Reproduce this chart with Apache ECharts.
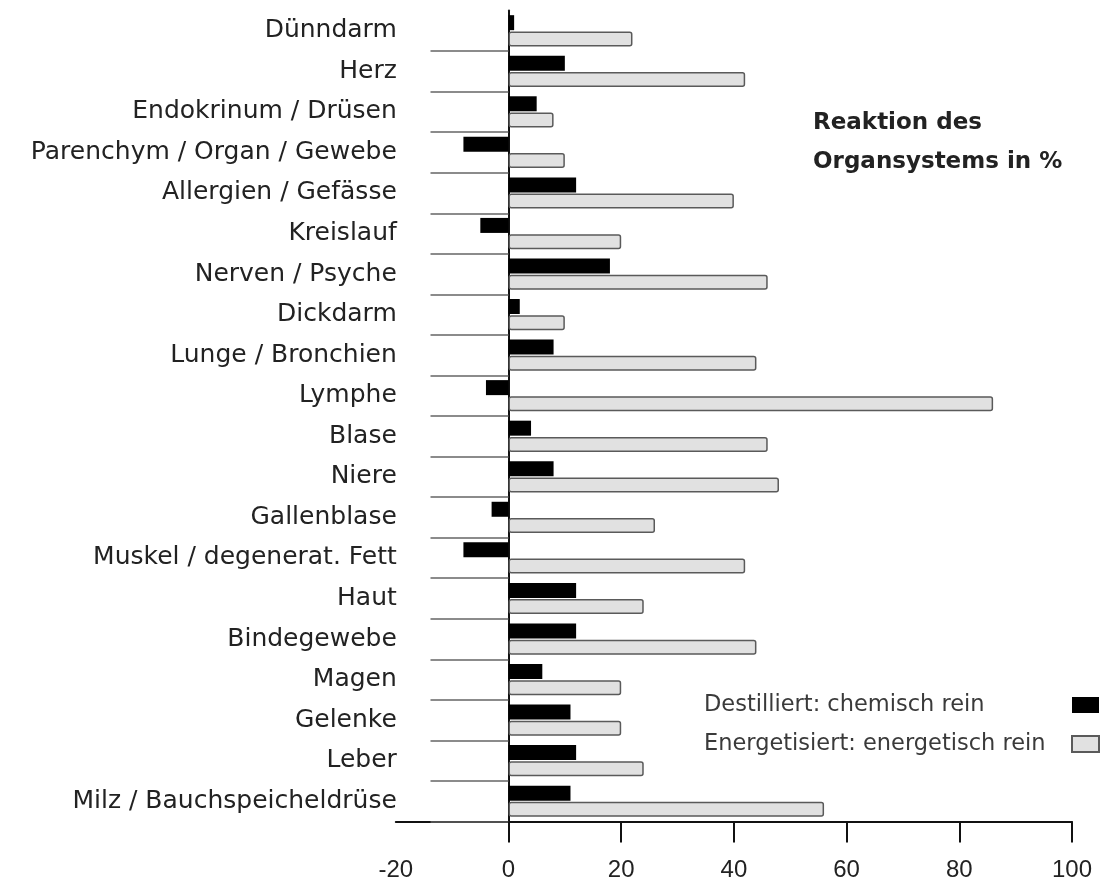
<!DOCTYPE html>
<html>
<head>
<meta charset="utf-8">
<script src="https://cdn.jsdelivr.net/npm/echarts@6/dist/echarts.min.js"></script>
<style>
  html, body { margin: 0; padding: 0; background: #fff; }
  #chart { width: 1102px; height: 885px; }
</style>
</head>
<body>
<div id="chart"></div>
<script>
// Organ systems, listed top to bottom
const categories = [
  'Dünndarm', 'Herz', 'Endokrinum / Drüsen', 'Parenchym / Organ / Gewebe',
  'Allergien / Gefässe', 'Kreislauf', 'Nerven / Psyche', 'Dickdarm',
  'Lunge / Bronchien', 'Lymphe', 'Blase', 'Niere', 'Gallenblase',
  'Muskel / degenerat. Fett', 'Haut', 'Bindegewebe', 'Magen', 'Gelenke',
  'Leber', 'Milz / Bauchspeicheldrüse'
];

// Reaction in % per organ system
const chemischRein = [1, 10, 5, -8, 12, -5, 18, 2, 8, -4, 4, 8, -3, -8, 12, 12, 6, 11, 12, 11];
const energetischRein = [22, 42, 8, 10, 40, 20, 46, 10, 44, 86, 46, 48, 26, 42, 24, 44, 20, 20, 24, 56];

const seriesNames = ['Destilliert: chemisch rein', 'Energetisiert: energetisch rein'];
const xTickValues = [0, 20, 40, 60, 80, 100];

const chart = echarts.init(document.getElementById('chart'));

chart.setOption({
  backgroundColor: '#ffffff',
  animation: false,
  title: {
    text: 'Reaktion des\nOrgansystems in %',
    left: 813,
    top: 104,
    padding: 0,
    textStyle: {
      fontFamily: 'DejaVu Sans',
      fontWeight: 'bold',
      fontSize: 23,
      lineHeight: 39,
      color: '#222'
    }
  },
  legend: {
    orient: 'vertical',
    right: 2,
    top: 693.5,
    padding: 0,
    align: 'right',
    icon: 'rect',
    itemWidth: 27,
    itemHeight: 16,
    itemGap: 16,
    data: seriesNames,
    formatter: '{t|{name}}',
    textStyle: {
      rich: {
        t: {
          width: 363,
          align: 'left',
          fontFamily: 'DejaVu Sans',
          fontSize: 22.5,
          lineHeight: 25,
          color: '#3a3a3a'
        }
      }
    }
  },
  grid: {
    left: 395.8,
    right: 30,
    top: 10.5,
    bottom: 63.5,
    containLabel: false,
    outerBoundsMode: 'none'
  },
  xAxis: {
    type: 'value',
    min: -20,
    max: 100,
    interval: 20,
    splitLine: { show: false },
    axisLine: { show: true, onZero: false, lineStyle: { color: '#111', width: 2 } },
    axisTick: {
      show: true,
      customValues: xTickValues,
      length: 21,
      lineStyle: { color: '#111', width: 2 }
    },
    axisLabel: {
      margin: 37,
      fontFamily: 'Liberation Sans',
      fontSize: 24,
      color: '#222'
    }
  },
  yAxis: {
    type: 'category',
    data: categories,
    inverse: true,
    axisLine: { show: true, onZero: true, lineStyle: { color: '#111', width: 2 } },
    axisTick: {
      show: true,
      length: 78,
      interval: function (index) { return index > 0; },
      lineStyle: { color: '#666', width: 1.5 }
    },
    axisLabel: {
      interval: 0,
      margin: -1,
      fontFamily: 'DejaVu Sans',
      fontSize: 25,
      color: '#222'
    },
    splitLine: { show: false }
  },
  series: [
    {
      name: seriesNames[0],
      type: 'bar',
      data: chemischRein,
      barWidth: 15,
      barGap: '8%',
      itemStyle: { color: '#000000' }
    },
    {
      name: seriesNames[1],
      type: 'bar',
      data: energetischRein,
      barWidth: 15,
      barGap: '8%',
      itemStyle: {
        color: '#e1e1e1',
        borderColor: '#5a5a5a',
        borderWidth: 1.5,
        borderRadius: 2
      }
    }
  ]
});
</script>
</body>
</html>
